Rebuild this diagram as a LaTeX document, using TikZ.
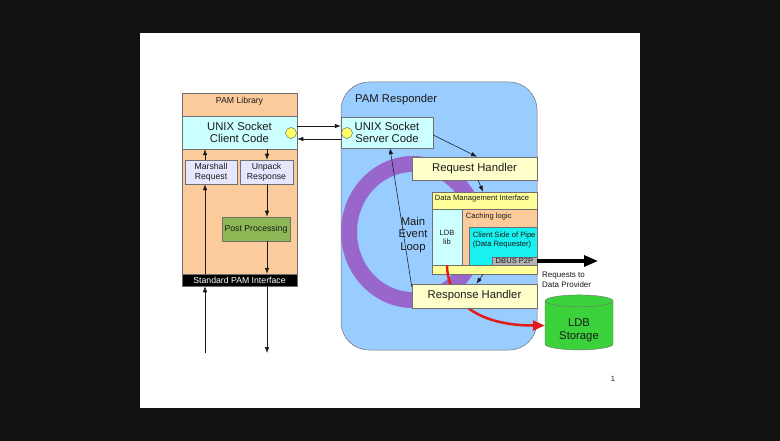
\documentclass[tikz,border=0pt]{standalone}
\usepackage{fontspec}
\setmainfont{Liberation Sans}
\usepackage{tikz}
\usetikzlibrary{shapes, shapes.geometric, calc, positioning}
\usetikzlibrary{arrows.meta}

\definecolor{slate}{HTML}{111111}
\definecolor{ink}{HTML}{1A1A1A}
\definecolor{edge}{HTML}{707070}
\definecolor{peach}{HTML}{FBCB9B}
\definecolor{sockcyan}{HTML}{CCFFFF}
\definecolor{portyel}{HTML}{FFFF66}
\definecolor{lavender}{HTML}{E6E6FF}
\definecolor{olive}{HTML}{8DB855}
\definecolor{respblue}{HTML}{99CCFF}
\definecolor{loopviolet}{HTML}{9966CC}
\definecolor{handyel}{HTML}{FFFFCC}
\definecolor{dmiyel}{HTML}{FFFF99}
\definecolor{pipecyan}{HTML}{19F0F0}
\definecolor{dbusgray}{HTML}{B3B3B3}
\definecolor{ldbgreen}{HTML}{3CD23C}
\definecolor{redflow}{HTML}{E31A1A}

\newcommand{\bigtxt}{\fontsize{11.3}{12.8}\selectfont}
\newcommand{\smalltxt}{\fontsize{8.7}{9.8}\selectfont}
\newcommand{\tinytxt}{\fontsize{7.6}{9}\selectfont}

\begin{document}
\begin{tikzpicture}[
      x=1pt, y=-1pt,  % one unit = one pixel of the slide, y downwards
      every node/.style={font=\smalltxt, text=ink, inner sep=0pt},
      box/.style={rectangle, draw=edge, line width=0.5pt},
      port/.style={circle, draw=edge, fill=portyel, minimum size=11pt, line width=0.5pt},
      arr/.style={draw=ink, line width=0.55pt, -{Latex[length=6pt, width=4.5pt]}},
      bigarr/.style={draw=black, line width=3pt, -{Triangle[length=14pt, width=11pt]}},
      redarr/.style={draw=redflow, line width=2.5pt, -{Triangle[length=12pt, width=10pt]}}
    ]
    % slide on dark background
    \fill[slate] (0,0) rectangle (780,441);
    \fill[white] (140,33) rectangle (640,408);

    % PAM library
    \node[box, fill=peach, minimum width=115pt, minimum height=193pt] (lib) at (239.5,189.5) {};
    \node[below=4pt of lib.north] (libtitle) {PAM Library};
    \node[box, fill=sockcyan, minimum width=115pt, minimum height=33pt, font=\bigtxt, align=center] (client) at (239.5,132.5) {UNIX Socket\\Client Code};
    \node[port] (cport) at (291,133) {};
    \node[box, fill=lavender, minimum width=52pt, minimum height=24pt, align=center] (marshall) at (211,172) {Marshall\\Request};
    \node[box, fill=lavender, minimum width=53pt, minimum height=24pt, align=center] (unpack) at (266.5,172) {Unpack\\Response};
    \node[box, fill=olive, minimum width=68pt, minimum height=24pt] (post) at (256,229) {Post Processing};
    \node[box, fill=black, minimum width=115pt, minimum height=12pt, text=white] (papi) at (239.5,280) {Standard PAM Interface};
    \coordinate (inL) at (205,353);
    \coordinate (outR) at (267,353);

    \draw[arr] (inL) -- (papi.south -| inL);
    \draw[arr] (papi.north -| inL) -- (marshall.south -| inL);
    \draw[arr] (marshall.north -| inL) -- (client.south -| inL);
    \draw[arr] (client.south -| outR) -- (unpack.north -| outR);
    \draw[arr] (unpack.south -| outR) -- (post.north -| outR);
    \draw[arr] (post.south -| outR) -- (papi.north -| outR);
    \draw[arr] (papi.south -| outR) -- (outR);

    % PAM responder
    \node[box, fill=respblue, rounded corners=28pt, minimum width=196pt, minimum height=268pt] (resp) at (439,216) {};
    \node[font=\bigtxt, anchor=west] (resptitle) at (355,100) {PAM Responder};
    \fill[loopviolet, even odd rule] (413,232) ellipse [x radius=72pt, y radius=76pt]
                                     (413,232) ellipse [x radius=56pt, y radius=60pt];
    \node[font=\bigtxt, align=center] (loop) at (413,235) {Main\\Event\\Loop};
    \node[box, fill=sockcyan, minimum width=92pt, minimum height=31pt, font=\bigtxt, align=center] (server) at (387,132.5) {UNIX Socket\\Server Code};
    \node[port] (sport) at (347,133) {};

    \draw[arr] ([yshift=6.5pt]client.east) -- ([yshift=6.5pt]server.west);
    \draw[arr] ([yshift=-6.5pt]server.west) -- ([yshift=-6.5pt]client.east);

    \node[box, fill=handyel, minimum width=125pt, minimum height=23pt, font=\bigtxt] (reqh) at (474.5,168.5) {Request Handler};

    % data management interface
    \node[box, fill=dmiyel, minimum width=105pt, minimum height=82pt] (dmi) at (484.5,233) {};
    \node[font=\tinytxt, anchor=north west] (dmititle) at ([shift={(3pt,-3pt)}]dmi.north west) {Data Management Interface};
    \node[box, fill=sockcyan, minimum width=30pt, minimum height=56pt, font=\tinytxt, align=center] (ldblib) at (447,237) {LDB\\lib};
    \node[box, fill=peach, minimum width=75pt, minimum height=56pt] (cache) at (499.5,237) {};
    \node[font=\tinytxt, anchor=north west] (cachetitle) at ([shift={(4pt,-4pt)}]cache.north west) {Caching logic};
    \node[box, fill=pipecyan, minimum width=68pt, minimum height=38pt] (pipe) at (503,246) {};
    \node[font=\tinytxt, anchor=north west, align=left] (pipetitle) at ([shift={(4pt,-5pt)}]pipe.north west) {Client Side of Pipe\\(Data Requester)};
    \node[box, fill=dbusgray, minimum width=45pt, minimum height=8pt, font=\tinytxt] (dbus) at (514.5,261) {DBUS P2P};

    % storage and outgoing requests
    \node[cylinder, shape border rotate=90, aspect=0.3, draw=edge, fill=ldbgreen, minimum width=68pt, minimum height=55pt, font=\bigtxt] (storage) at (579,325.5) {\phantom{Storage}};
    \node[font=\bigtxt, align=center] (storagetxt) at ([yshift=-5pt]storage.center) {LDB\\Storage};
    \coordinate (prov) at (598,261);
    \draw[bigarr] (dbus.east) -- (prov);
    \node[font=\fontsize{8}{10.5}\selectfont, anchor=west, align=left] (provtxt) at (542,280) {Requests to\\Data Provider};
    \draw[redarr] (ldblib.south) .. controls +(1,38) and +(-65,0) .. (storage.west);

    \node[box, fill=handyel, minimum width=125pt, minimum height=24pt, font=\bigtxt] (resph) at (474.5,296) {Response Handler};

    \draw[arr] ([yshift=-2.5pt]server.east) -- ([xshift=2.5pt]reqh.north);
    \draw[arr] ([xshift=3.5pt]reqh.south) -- ([xshift=-1.5pt]dmi.north);
    \draw[arr] ([xshift=-1.5pt]dmi.south) -- ([xshift=2pt]resph.north);
    \draw[arr] ([yshift=-3pt]resph.north west) -- ([xshift=3pt]server.south);

    \node[font=\tinytxt] (pagenum) at (613,379) {1};
  \end{tikzpicture}
\end{document}
